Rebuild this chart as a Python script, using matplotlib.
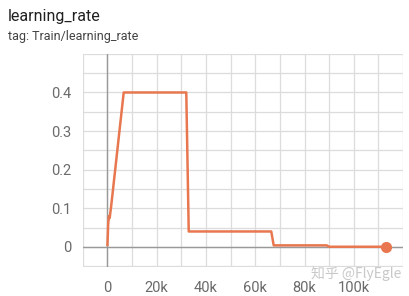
import matplotlib
matplotlib.use('Agg')
import matplotlib.pyplot as plt
from matplotlib.ticker import MultipleLocator, FuncFormatter

# learning rate schedule
steps = [0, 300, 600, 900, 1500, 6600, 32000, 33000, 66500, 67500, 89000, 90000, 113000]
lr = [0.005, 0.06, 0.08, 0.075, 0.105, 0.4, 0.4, 0.04, 0.04, 0.004, 0.004, 0.0004, 0.0004]

x_ticks = [0, 20000, 40000, 60000, 80000, 100000]
y_ticks = [0, 0.1, 0.2, 0.3, 0.4]

cor_linha = '#e8774f'
cor_grade = '#dcdcdc'
cor_texto = '#6a6a6a'

plt.rcParams['font.family'] = ['Roboto', 'DejaVu Sans']

fig = plt.figure(figsize=(4.1, 2.96), dpi=100)
ax = fig.add_axes([0.202, 0.098, 0.781, 0.72])

ax.plot(steps, lr, color=cor_linha, linewidth=1.8, solid_joinstyle='round', zorder=3)
ax.plot(steps[-1], lr[-1], 'o', color=cor_linha, markersize=7, zorder=4)

ax.set_xlim(-10000, 120000)
ax.set_ylim(-0.052, 0.5)

ax.set_xticks(x_ticks)
ax.xaxis.set_minor_locator(MultipleLocator(10000))
ax.set_yticks(y_ticks)
ax.yaxis.set_minor_locator(MultipleLocator(0.05))
ax.xaxis.set_major_formatter(FuncFormatter(lambda v, p: '0' if v == 0 else f'{int(v / 1000)}k'))
ax.yaxis.set_major_formatter(FuncFormatter(lambda v, p: '0' if v == 0 else f'{v:.1f}'))

ax.grid(True, which='both', color=cor_grade, linewidth=0.9)
ax.axhline(0, color='#999999', linewidth=1.0, zorder=2)
ax.axvline(0, color='#999999', linewidth=1.0, zorder=2)
ax.set_axisbelow(True)

for s in ax.spines.values():
    s.set_visible(False)
ax.tick_params(axis='both', which='both', length=0, colors=cor_texto, labelsize=10.5)
ax.tick_params(axis='x', pad=10)
ax.tick_params(axis='y', pad=8)

fig.text(0.02, 0.93, 'learning_rate', fontsize=11.5, color='#212121')
fig.text(0.02, 0.865, 'tag: Train/learning_rate', fontsize=9, color='#424242')

# marca d'agua
fig.text(0.978, 0.062, '知乎 @FlyEgle', fontsize=10, color='#c8c8c8', ha='right',
         family=['Noto Sans CJK SC', 'DejaVu Sans'])

plt.savefig('out.png')
